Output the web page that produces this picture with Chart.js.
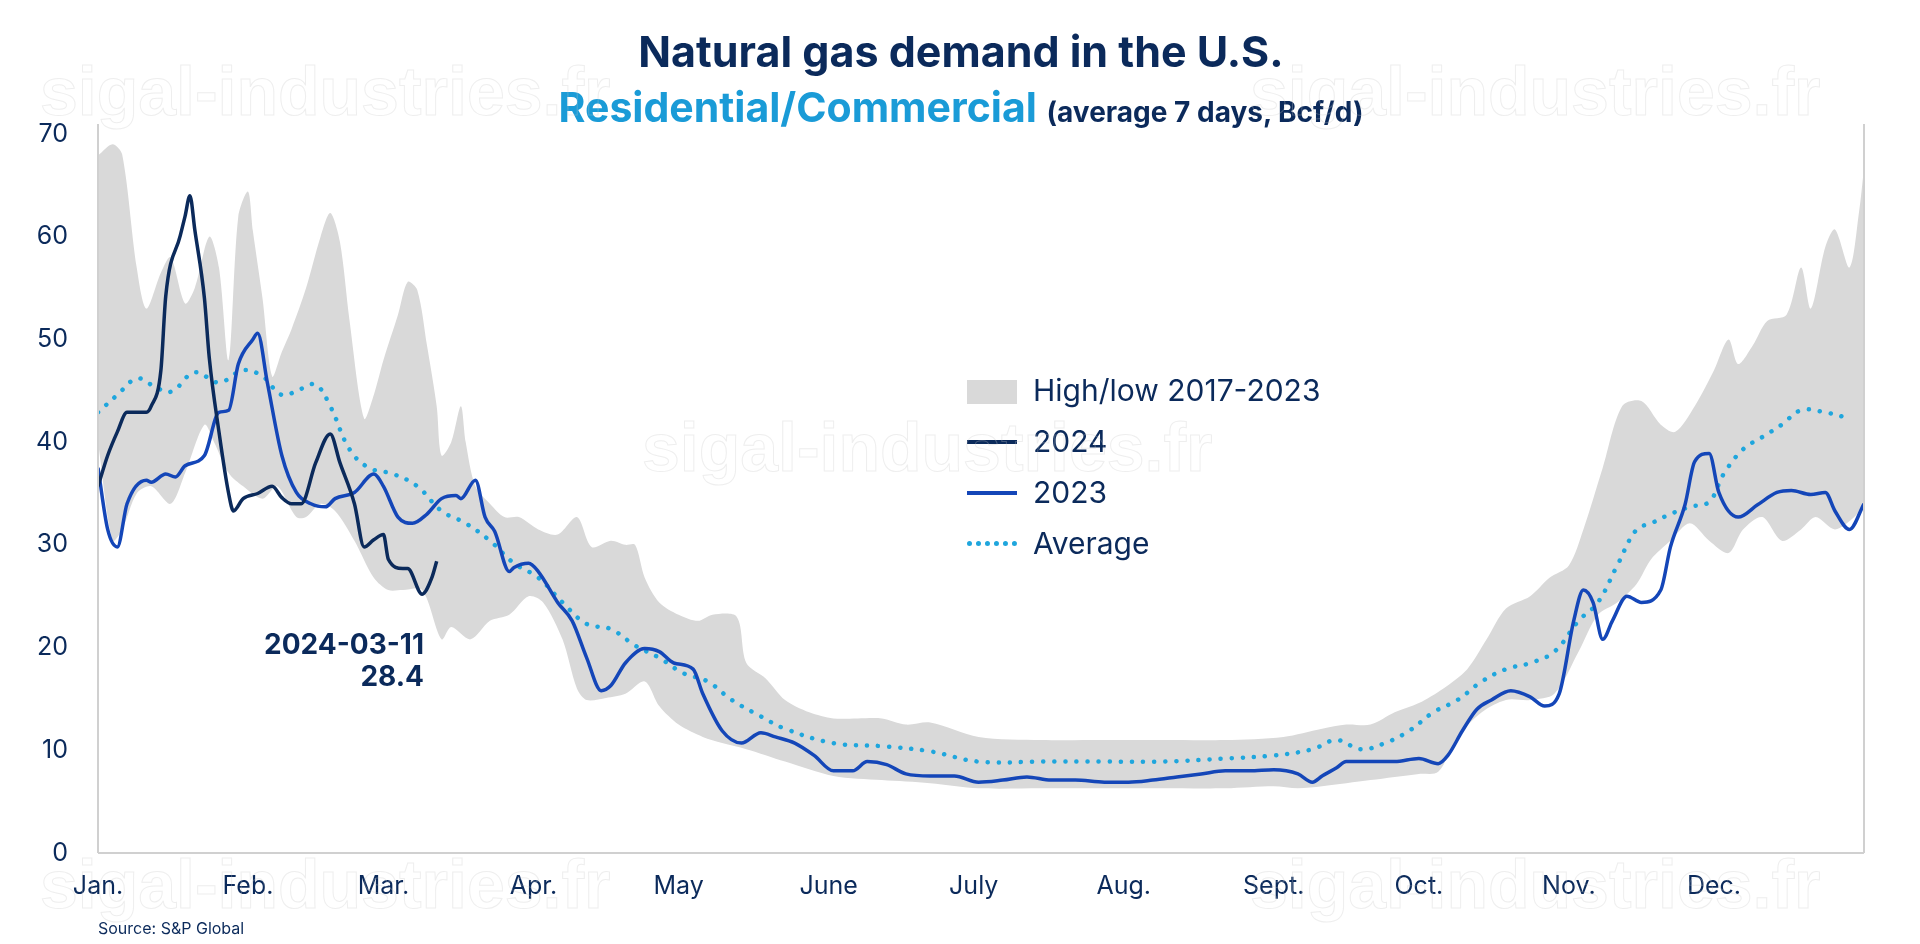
<!DOCTYPE html>
<html><head><meta charset="utf-8">
<script src="https://cdn.jsdelivr.net/npm/chart.js@4"></script>
<style>
body{margin:0;width:1920px;height:944px;background:#fff;font-family:Inter,"Noto Sans",sans-serif;overflow:hidden}
#wrap{position:relative;width:1920px;height:944px}
.t{position:absolute;color:#0b2a5b;white-space:nowrap}
.wm{position:absolute;font:700 68px "Liberation Sans",Arial,sans-serif;color:transparent;-webkit-text-stroke:1px rgba(200,200,200,0.3);white-space:nowrap}
</style></head><body>
<div id="wrap">
<canvas id="c" width="1920" height="944"></canvas>
<div class="t" style="left:0;width:1922px;text-align:center;top:25px;font-weight:700;font-size:43px">Natural gas demand in the U.S.</div>
<div class="t" style="left:0;width:1922px;text-align:center;top:82px;font-weight:700;font-size:41px"><span style="color:#1a9bd7">Residential/Commercial</span> <span style="font-size:28px">(average 7 days, Bcf/d)</span></div>
<div class="t" style="left:98px;top:918px;font-size:16px">Source: S&amp;P Global</div>
<div class="t" style="right:1496px;top:628px;font-weight:700;font-size:28px;text-align:right;line-height:32px">2024-03-11<br>28.4</div>
<div class="t" style="left:967px;top:365px;font-size:30px;line-height:51px">
 <div><span style="display:inline-block;width:50px;height:24px;background:#d9d9d9;vertical-align:-3px;margin-right:16px"></span>High/low 2017-2023</div>
 <div><span style="display:inline-block;width:50px;height:4px;background:#0b2a5b;vertical-align:8px;margin-right:16px"></span>2024</div>
 <div><span style="display:inline-block;width:50px;height:4px;background:#1446b8;vertical-align:8px;margin-right:16px"></span>2023</div>
 <div><span style="display:inline-block;width:50px;border-top:5px dotted #1fa6dd;vertical-align:8px;margin-right:16px"></span>Average</div>
</div>
<div class="wm" style="left:40px;top:52px">sigal-industries.fr</div>
<div class="wm" style="left:1250px;top:52px">sigal-industries.fr</div>
<div class="wm" style="left:642px;top:408px">sigal-industries.fr</div>
<div class="wm" style="left:40px;top:845px">sigal-industries.fr</div>
<div class="wm" style="left:1250px;top:845px">sigal-industries.fr</div>
</div>
<script>
const monthDays=[0,31,59,90,120,151,181,212,243,273,304,334];
const monthLabels=["Jan.","Feb.","Mar.","Apr.","May","June","July","Aug.","Sept.","Oct.","Nov.","Dec."];
const yTicks=[0,10,20,30,40,50,60,70];
const highDays=[0,3,5,8,10,13,15,18,20,23,25,27,29,31,32,34,36,38,40,43,46,48,50,52,55,57,59,62,64,66,68,70,71,73,75,76,78,81,84,87,91,95,99,102,106,109,111,113,116,120,124,127,132,134,138,142,147,152,157,162,167,172,182,195,208,220,233,245,253,258,263,268,273,278,283,287,291,296,300,304,307,311,315,319,323,326,330,334,337,339,342,345,349,352,354,357,359,362,364,365];
const highVals=[67.9,69,68,57,53,56.5,58,53.5,55,60,57,48,62,64.4,60.6,54,46.4,48.8,51,55,60,62.3,59.5,51.8,42.3,44.6,48,52.4,55.6,54.8,49.4,43.5,38.7,40,43.5,40,35.7,34,32.7,32.7,31.5,31,32.7,29.8,30.4,30,30,26.8,24.4,23.2,22.6,23.2,23,18.5,17,14.9,13.7,13.1,13.1,13.1,12.5,12.7,11.3,11,11,11,11,11.3,12.1,12.5,12.5,13.7,14.6,16,17.9,20.8,23.8,25,26.8,28,31.5,37.5,43.5,44,41.7,41,43.5,47,50,47.6,49.4,51.8,52.4,57,53,59,60.7,57,62.5,66.7];
const lowDays=[0,3,5,8,11,15,18,22,24,27,30,34,37,41,43,46,49,53,57,60,63,67,71,73,77,81,85,89,92,96,99,101,105,109,113,116,120,125,129,134,142,152,162,172,182,195,208,220,233,243,248,253,263,273,277,281,286,291,296,301,306,310,314,318,321,325,329,333,337,340,344,348,352,355,359,363,365];
const lowVals=[40,30.4,31.5,35,35.7,34,37,41.7,40,37,35.7,34.5,35.7,32.7,32.7,34,33.3,30.4,26.8,25.6,25.6,25.6,20.8,22,20.8,22.6,23.2,25,24.4,20.8,16,14.9,15.1,15.5,16.7,14.3,12.5,11.3,10.7,10.1,8.9,7.5,7.1,6.8,6.3,6.3,6.3,6.3,6.3,6.5,6.3,6.5,7.1,7.7,7.9,11.3,13.7,14.9,14.9,15.5,19.6,23.2,24.4,26.2,28.6,30.4,32.1,30.4,29.2,31.5,32.7,30.4,31.5,32.7,31.5,32.7,34];
const days2024=[0,2,4,6,10,11,13,14,17,18,19,20,22,23,25,27,28,30,33,36,38,40,42,45,48,50,53,55,57,59,60,63,64,67,69,70];
const vals2024=[35.7,38.7,41,42.9,42.9,43.5,47,54.2,60.1,62,64,60.7,54,48.2,41,35,33.3,34.5,35,35.7,34.6,34,34,38,40.8,38,34,29.8,30.5,31,28.6,27.7,27.7,25.2,26.8,28.4];
const days2023=[0,2,4,6,10,11,14,16,18,22,25,27,29,32,33,35,38,41,44,47,49,53,57,59,62,65,68,71,74,75,78,80,82,85,86,89,91,95,98,101,104,106,109,113,116,119,123,125,129,133,137,140,144,148,152,156,159,163,167,172,177,182,187,192,197,202,208,213,218,223,228,233,238,243,248,251,253,256,258,263,268,273,277,279,282,285,288,292,296,299,302,305,307,309,311,313,316,319,323,325,328,330,333,335,339,343,347,350,354,357,359,362,365];
const vals2023=[37.5,31.5,29.8,34,36.3,36.1,36.9,36.6,37.7,38.7,42.9,43.1,47.6,50,50.6,45.8,38.7,35.1,34,33.7,34.5,35.1,36.9,35.7,32.7,32.1,33,34.5,34.8,34.5,36.3,32.7,31.3,27.4,27.8,28.2,27.4,24.4,22.6,19,15.8,16.3,18.5,19.9,19.6,18.5,17.9,15.5,11.9,10.7,11.7,11.3,10.7,9.5,8,8,8.9,8.6,7.7,7.5,7.5,6.9,7.1,7.4,7.1,7.1,6.9,6.9,7.1,7.4,7.7,8,8,8.1,7.7,6.9,7.5,8.3,8.9,8.9,8.9,9.2,8.7,9.5,11.9,14,14.9,15.8,15.2,14.3,15.5,22.6,25.6,24.4,20.8,22.6,25,24.4,25.6,29.8,33.9,38.1,38.9,35.1,32.7,33.9,35.1,35.3,34.9,35.1,33.3,31.5,34];
const avgDays=[0,4,8,11,15,20,25,30,34,38,42,45,48,52,56,61,66,71,76,81,86,91,96,101,106,111,116,121,126,131,137,142,152,162,172,182,195,208,220,233,243,251,256,261,266,271,276,281,286,291,296,301,306,310,314,318,321,325,329,333,336,340,344,348,352,357,362];
const avgVals=[42.9,44.6,46.2,45.6,44.9,46.8,45.8,47,46.4,44.6,45.2,45.6,43.5,39.3,37.5,36.9,35.7,33.3,32.1,30.4,28.2,26.8,24.4,22.3,21.8,20.2,19,17.5,16.7,14.9,13.3,12.1,10.7,10.4,9.9,8.9,8.9,8.9,8.9,9.2,9.5,10.1,11,10.1,10.7,11.9,13.7,14.9,16.7,17.9,18.5,19.6,22.6,24.4,28,31.5,32.1,33,33.7,34.2,36.9,39.3,40.5,41.7,43.1,42.9,42.3];
const pts=(d,v)=>d.map((x,i)=>({x,y:v[i]}));
const navy='#0b2a5b';
const borders={id:'borders',afterDraw(ch){const a=ch.chartArea,c=ch.ctx;c.save();c.strokeStyle='#d0d0d0';c.lineWidth=2;c.beginPath();c.moveTo(a.left,a.top-10);c.lineTo(a.left,a.bottom);c.moveTo(a.right,a.top-10);c.lineTo(a.right,a.bottom);c.moveTo(a.left,a.bottom);c.lineTo(a.right,a.bottom);c.stroke();c.restore();}};
new Chart(document.getElementById('c'),{
 type:'line',
 data:{datasets:[
  {label:'High',data:pts(highDays,highVals),borderWidth:0,pointRadius:0,backgroundColor:'#d9d9d9',fill:'+1',tension:0.3,order:5},
  {label:'Low',data:pts(lowDays,lowVals),borderWidth:0,pointRadius:0,fill:false,tension:0.3,order:5},
  {label:'Average',data:pts(avgDays,avgVals),borderColor:'#1fa6dd',borderWidth:4.5,borderDash:[0.1,11],borderCapStyle:'round',pointRadius:0,fill:false,tension:0.4,order:3},
  {label:'2023',data:pts(days2023,vals2023),borderColor:'#1446b8',borderWidth:3.5,pointRadius:0,fill:false,cubicInterpolationMode:'monotone',order:2},
  {label:'2024',data:pts(days2024,vals2024),borderColor:navy,borderWidth:3.5,pointRadius:0,fill:false,cubicInterpolationMode:'monotone',order:1}
 ]},
 options:{responsive:false,animation:false,
  layout:{padding:{left:0,right:56,top:134,bottom:0}},
  plugins:{legend:{display:false},tooltip:{enabled:false}},
  scales:{
   x:{type:'linear',min:0,max:365,grid:{display:false},border:{display:false},
      afterBuildTicks:s=>{s.ticks=monthDays.map(v=>({value:v}));},
      afterFit:s=>{s.height=91;},
      ticks:{autoSkip:false,maxRotation:0,padding:10,color:navy,font:{family:'Inter',size:25},callback:v=>monthLabels[monthDays.indexOf(v)]}},
   y:{min:0,max:70,grid:{display:false},border:{display:false},
      afterBuildTicks:s=>{s.ticks=yTicks.map(v=>({value:v}));},
      afterFit:s=>{s.width=98;},
      ticks:{padding:22,color:navy,font:{family:'Inter',size:25}}}
  }},
 plugins:[borders]
});
</script></body></html>
